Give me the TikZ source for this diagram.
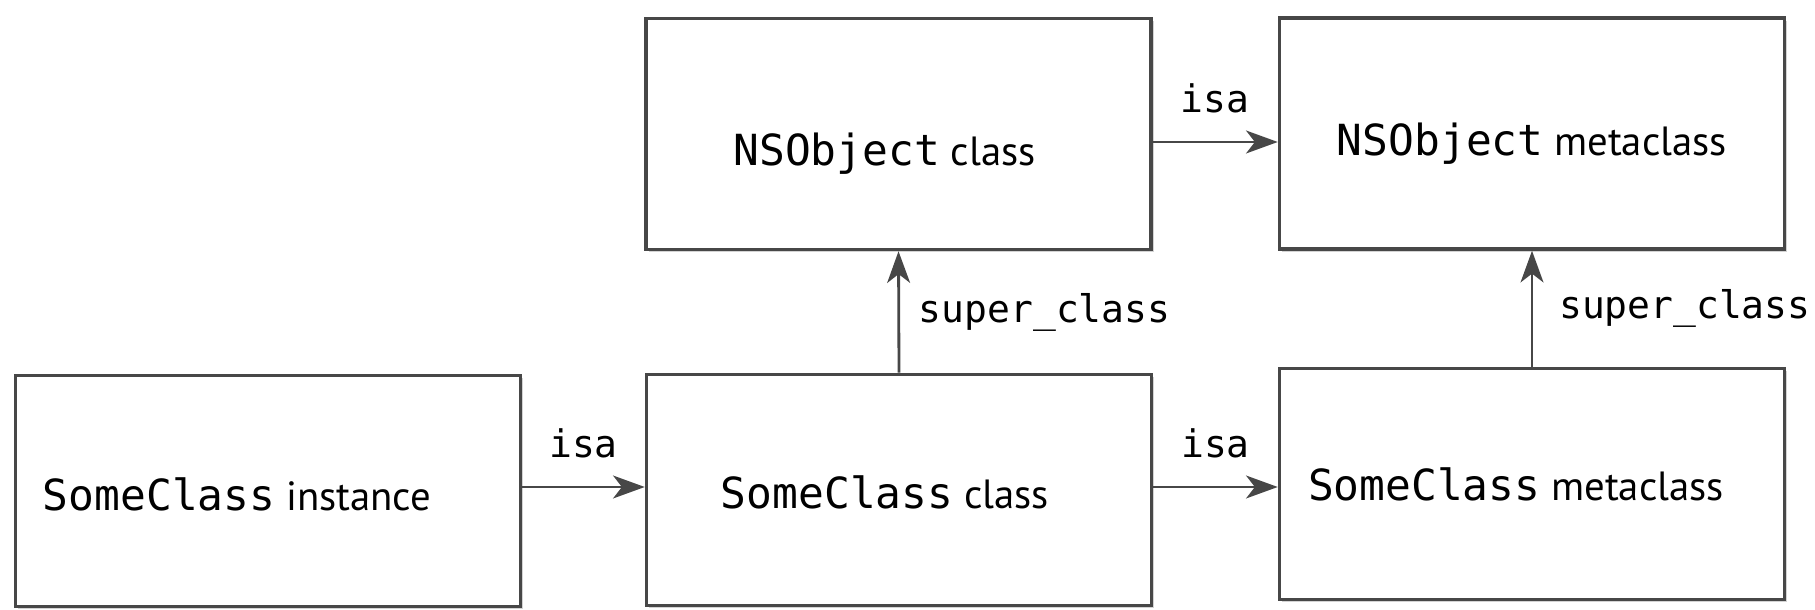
\documentclass[tikz,border=0pt]{standalone}
\usepackage{fontspec}
\setmainfont{PT Sans}
\setmonofont{DejaVu Sans Mono}
\usetikzlibrary{arrows.meta,positioning,shadows}
\newcommand{\cname}[1]{{\fontsize{12.2}{14}\selectfont\ttfamily #1}}
% text placed a bit off the middle of its box
\newcommand{\objtext}[3]{\raisebox{#2}[\height][\depth]{#3}\hspace*{#1}}

\tikzset{
  objbox/.style={draw=black!72, line width=1pt, fill=white,
    minimum width=5.05cm, minimum height=2.31cm, inner sep=0pt,
    font=\fontsize{11.6}{13}\selectfont,
    drop shadow={shadow xshift=0.8pt, shadow yshift=-0.8pt, opacity=0.35, fill=black!50}},
  ptr/.style={draw=black!72, line width=0.8pt, -{Stealth[length=9pt,width=6.5pt,inset=2.5pt]}},
  lbl/.style={font=\fontsize{10.8}{13}\selectfont\ttfamily}
}

\begin{document}
\begin{tikzpicture}
\useasboundingbox (0,0) rectangle (18.15,-6.1);

% objects
\node[objbox] (inst)   at (2.68,-4.91)  {\objtext{0.62cm}{-0.03cm}{\cname{SomeClass} instance}};
\node[objbox] (cls)    at (8.99,-4.90)  {\objtext{0.28cm}{-0.02cm}{\cname{SomeClass} class}};
\node[objbox] (meta)   at (15.32,-4.84) {\objtext{0.32cm}{0cm}{\cname{SomeClass} metaclass}};
\node[objbox] (nscls)  at (8.985,-1.34) {\objtext{0.28cm}{-0.2cm}{\cname{NSObject} class}};
\node[objbox] (nsmeta) at (15.32,-1.335) {\objtext{0cm}{-0.1cm}{\cname{NSObject} metaclass}};

% isa pointers
\draw[ptr] ([yshift=0.04cm]inst.east) -- ([yshift=0.04cm]inst.east -| cls.west)
  node[midway, above=4.5pt, lbl] {isa};
\draw[ptr] ([yshift=0.03cm]cls.east) -- ([yshift=0.03cm]cls.east -| meta.west)
  node[midway, above=4.5pt, lbl] {isa};
\draw[ptr] ([yshift=-0.08cm]nscls.east) -- ([yshift=-0.08cm]nscls.east -| nsmeta.west)
  node[midway, above=4.5pt, lbl] {isa};

% superclass pointers
\draw[ptr] (cls.north) -- (nscls.south)
  node[midway, right=2pt, lbl] {super\_class};
\draw[ptr] (meta.north) -- (nsmeta.south)
  node[midway, right=4pt, lbl] {super\_class};
\end{tikzpicture}
\end{document}
